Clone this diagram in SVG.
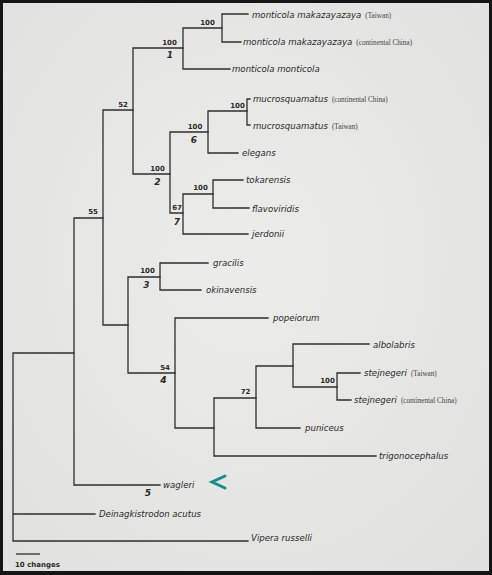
<svg xmlns="http://www.w3.org/2000/svg" width="492" height="575" viewBox="0 0 492 575">
<defs>
<style>
.br{fill:none;stroke:#2e2e2e;stroke-width:1.3;stroke-linecap:square}
.sp{font-family:"DejaVu Sans","Liberation Sans",sans-serif;font-style:italic;font-size:8.6px;fill:#2a2a2a}
.loc{font-family:"Liberation Serif","DejaVu Serif",serif;font-style:normal;font-size:7.2px;fill:#444}
.bs{font-family:"DejaVu Sans","Liberation Sans",sans-serif;font-weight:bold;font-size:7px;fill:#2a2a2a;text-anchor:middle}
.nn{font-family:"DejaVu Sans","Liberation Sans",sans-serif;font-weight:bold;font-style:italic;font-size:9px;fill:#2a2a2a;text-anchor:middle}
</style>
<radialGradient id="bg" cx="0.5" cy="0.45" r="0.7">
<stop offset="0" stop-color="#ececea"/>
<stop offset="1" stop-color="#e1e1df"/>
</radialGradient>
</defs>
<rect x="0" y="0" width="492" height="575" fill="#151515"/>
<rect x="3" y="3" width="486" height="568" fill="url(#bg)"/>

<g id="connectors">
<path class="br" d="M13,353V541M13,353H74M13,514H95M13,541H248"/>
<path class="br" d="M74,218V485M74,218H103M74,485H160"/>
<path class="br" d="M103,110V325M103,110H133M103,325H128"/>
<path class="br" d="M133,48V174M133,48H183M133,174H170"/>
<path class="br" d="M183,28V69M183,28H222M183,69H230"/>
<path class="br" d="M222,14V42M222,14H248M222,42H241"/>
<path class="br" d="M170,132V213M170,132H208M170,213H183"/>
<path class="br" d="M208,111V153M208,111H247M208,153H238"/>
<path class="br" d="M247,99V125M247,99H250M247,125H250"/>
<path class="br" d="M183,194V234M183,194H213M183,234H248"/>
<path class="br" d="M213,180V208M213,180H243M213,208H249"/>
<path class="br" d="M128,277V373M128,277H160M128,373H175"/>
<path class="br" d="M160,263V290M160,263H208M160,290H201"/>
<path class="br" d="M175,318V428M175,318H268M175,428H214"/>
<path class="br" d="M214,398V456M214,398H256M214,456H376"/>
<path class="br" d="M256,366V428M256,366H293M256,428H300"/>
<path class="br" d="M293,344V387M293,344H369M293,387H337"/>
<path class="br" d="M337,373V400M337,373H360M337,400H351"/>
</g>

<g id="support">
<text class="bs" x="123" y="107">52</text>
<text class="bs" x="93" y="214">55</text>
<text class="bs" x="169.5" y="45">100</text>
<text class="bs" x="207.5" y="25">100</text>
<text class="bs" x="195" y="129">100</text>
<text class="bs" x="237.5" y="108">100</text>
<text class="bs" x="157.5" y="171">100</text>
<text class="bs" x="200.5" y="190">100</text>
<text class="bs" x="177" y="210">67</text>
<text class="bs" x="147.5" y="273">100</text>
<text class="bs" x="165" y="370">54</text>
<text class="bs" x="245.5" y="394">72</text>
<text class="bs" x="327.5" y="383">100</text>
</g>

<g id="clades">
<text class="nn" x="170" y="58">1</text>
<text class="nn" x="157.5" y="185">2</text>
<text class="nn" x="146.5" y="288">3</text>
<text class="nn" x="163.5" y="383">4</text>
<text class="nn" x="148" y="496">5</text>
<text class="nn" x="194" y="143">6</text>
<text class="nn" x="177" y="225">7</text>
</g>

<g id="taxa">
<g id="t-mmk-tw"><text class="sp" x="252" y="18">monticola makazayazaya<tspan class="loc" dx="4">(Taiwan)</tspan></text></g>
<g id="t-mmk-cn"><text class="sp" x="243" y="45">monticola makazayazaya<tspan class="loc" dx="4">(continental China)</tspan></text></g>
<g id="t-mm"><text class="sp" x="232" y="72">monticola monticola</text></g>
<g id="t-mu-cn"><text class="sp" x="253" y="102">mucrosquamatus<tspan class="loc" dx="4">(continental China)</tspan></text></g>
<g id="t-mu-tw"><text class="sp" x="253" y="129">mucrosquamatus<tspan class="loc" dx="4">(Taiwan)</tspan></text></g>
<g id="t-el"><text class="sp" x="242" y="156">elegans</text></g>
<g id="t-to"><text class="sp" x="246" y="183">tokarensis</text></g>
<g id="t-fl"><text class="sp" x="252" y="212">flavoviridis</text></g>
<g id="t-je"><text class="sp" x="252" y="237">jerdonii</text></g>
<g id="t-gr"><text class="sp" x="213" y="266">gracilis</text></g>
<g id="t-ok"><text class="sp" x="206" y="293">okinavensis</text></g>
<g id="t-po"><text class="sp" x="273" y="321">popeiorum</text></g>
<g id="t-al"><text class="sp" x="373" y="348">albolabris</text></g>
<g id="t-st-tw"><text class="sp" x="364" y="376">stejnegeri<tspan class="loc" dx="4">(Taiwan)</tspan></text></g>
<g id="t-st-cn"><text class="sp" x="354" y="403">stejnegeri<tspan class="loc" dx="4">(continental China)</tspan></text></g>
<g id="t-pu"><text class="sp" x="305" y="431">puniceus</text></g>
<g id="t-tr"><text class="sp" x="379" y="459">trigonocephalus</text></g>
<g id="t-wa"><text class="sp" x="163" y="488">wagleri</text></g>
<g id="t-de"><text class="sp" x="99" y="517">Deinagkistrodon acutus</text></g>
<g id="t-vi"><text class="sp" x="251" y="541">Vipera russelli</text></g>
</g>

<g id="pointer">
<polyline points="225,476 212,482 225,488" fill="none" stroke="#1b8c8c" stroke-width="3" stroke-linejoin="miter" stroke-linecap="round"/>
</g>

<g id="scale">
<line x1="16" y1="554" x2="40" y2="554" stroke="#2e2e2e" stroke-width="1.3"/>
<text x="15" y="567" font-family="DejaVu Sans, Liberation Sans, sans-serif" font-weight="bold" font-size="7" fill="#2a2a2a">10 changes</text>
</g>
</svg>
